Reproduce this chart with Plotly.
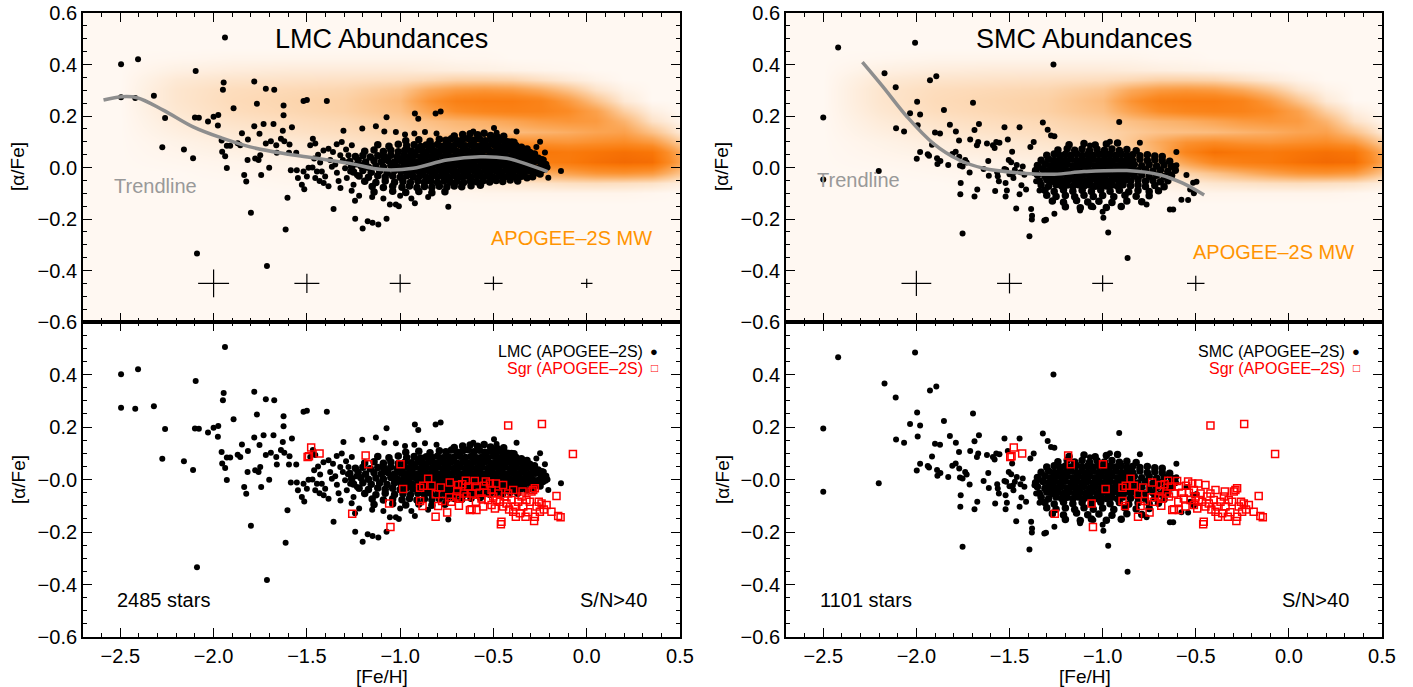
import plotly.graph_objects as go

FONT = "Liberation Sans"
CREAM = "#fff8f2"

# ---------------- LMC stars: ([Fe/H], [alpha/Fe]) ----------------
lmc_outer = [
    (-2.496, 0.401), (-2.496, 0.273), (-2.405, 0.420), (-2.420, 0.270), (-2.320, 0.279),
    (-2.260, 0.192), (-2.275, 0.079), (-2.159, 0.070), (-2.110, 0.036), (-2.096, 0.375),
    (-2.100, 0.194), (-2.079, 0.193), (-2.089, -0.334), (-2.030, 0.179), (-2.000, 0.197),
    (-1.975, 0.204), (-1.977, 0.163), (-1.939, 0.505), (-1.946, 0.330), (-1.950, 0.302),
    (-1.957, 0.105), (-1.954, 0.061), (-1.938, 0.044), (-1.929, 0.084), (-1.911, 0.084),
    (-1.929, -0.002), (-1.893, 0.230), (-1.871, 0.094), (-1.857, 0.086), (-1.848, 0.133),
    (-1.836, -0.029), (-1.825, -0.054), (-1.818, 0.029), (-1.816, 0.109), (-1.800, -0.176),
    (-1.782, 0.334), (-1.782, 0.160), (-1.768, 0.248), (-1.777, 0.035), (-1.759, 0.029),
    (-1.754, 0.131), (-1.750, 0.048), (-1.745, -0.029), (-1.732, 0.169), (-1.720, 0.306),
    (-1.720, 0.093), (-1.714, -0.383), (-1.702, -0.001), (-1.693, 0.102), (-1.679, 0.169),
    (-1.675, 0.302), (-1.664, 0.086), (-1.661, 0.057), (-1.639, 0.112), (-1.629, 0.143),
    (-1.625, 0.203), (-1.625, 0.241), (-1.621, 0.102), (-1.614, -0.241), (-1.604, -0.117),
    (-1.596, 0.057), (-1.593, 0.089), (-1.586, -0.011), (-1.580, 0.156), (-1.557, 0.057),
    (-1.554, -0.011), (-1.548, -0.041), (-1.527, -0.067), (-1.518, 0.258), (-1.500, 0.262),
    (-1.518, -0.016), (-1.514, -0.084), (-1.500, -0.035), (-1.491, -0.001), (-1.482, 0.086),
    (-1.468, 0.112), (-1.461, 0.035), (-1.455, 0.093), (-1.446, -0.016), (-1.455, -0.041),
    (-1.432, -0.052), (-1.429, 0.019), (-1.420, -0.016), (-1.411, 0.066), (-1.402, -0.035),
    (-1.393, 0.258), (-1.384, -0.073), (-1.384, 0.073), (-1.375, 0.029), (-1.366, 0.003),
    (-1.357, -0.161), (-1.348, 0.012), (-1.339, -0.020), (-1.330, -0.052), (-1.321, 0.048),
    (-1.313, 0.099), (-1.307, 0.029), (-1.304, 0.143), (-1.295, -0.003), (-1.286, -0.041),
    (-1.277, 0.048), (-1.268, -0.016), (-1.259, 0.086), (-1.250, -0.067), (-1.241, -0.199),
    (-1.236, 0.012), (-1.232, -0.029), (-1.470, 0.000), (-1.440, 0.050), (-1.410, -0.060),
    (-1.360, 0.060), (-1.340, 0.090), (-1.320, -0.080), (-1.290, 0.070), (-1.280, 0.020),
    (-1.203, 0.151), (-1.130, 0.160), (-1.073, 0.195), (-0.921, 0.210), (-0.903, 0.189),
    (-0.810, 0.210), (-0.783, 0.217), (-1.085, 0.140), (-1.023, 0.138), (-0.974, 0.128),
    (-0.924, 0.132), (-0.867, 0.138), (-0.805, 0.132), (-0.608, 0.140), (-0.497, 0.153),
    (-0.483, 0.135), (-0.376, 0.140), (-0.403, 0.102), (-0.224, 0.058), (-0.138, -0.014),
    (-0.206, -0.040), (-1.201, -0.237), (-1.174, -0.209), (-1.148, -0.215), (-1.117, -0.221),
    (-1.073, -0.199), (-1.055, -0.144), (-1.023, -0.144), (-1.007, -0.150), (-0.921, -0.139),
    (-0.742, -0.152), (-1.242, -0.129), (-1.260, -0.090), (-1.220, -0.110), (-1.150, -0.115),
    (-1.090, -0.120), (-1.000, -0.110), (-0.940, -0.120), (-0.850, -0.115), (-0.270, 0.080),
    (-0.250, 0.100), (-0.230, 0.030), (-0.210, 0.000), (-0.220, -0.005),
]

lmc_core = [
    (-0.710, 0.122), (-0.665, 0.128), (-0.625, 0.131), (-0.585, 0.127), (-0.550, 0.133),
    (-0.515, 0.124), (-0.480, 0.118), (-0.445, 0.121),
    (-0.970, 0.104), (-0.900, 0.108), (-0.840, 0.102), (-0.790, 0.110), (-0.755, 0.106),
    (-0.725, 0.112), (-0.695, 0.104), (-0.665, 0.109), (-0.635, 0.113), (-0.605, 0.106),
    (-0.575, 0.111), (-0.545, 0.104), (-0.515, 0.109), (-0.485, 0.103), (-0.455, 0.107),
    (-0.425, 0.100), (-0.390, 0.098),
    (-1.120, 0.088), (-1.060, 0.083), (-1.010, 0.090), (-0.965, 0.084), (-0.925, 0.088),
    (-0.890, 0.082), (-0.860, 0.087), (-0.830, 0.084), (-0.800, 0.089), (-0.770, 0.083),
    (-0.740, 0.087), (-0.710, 0.085), (-0.680, 0.089), (-0.650, 0.084), (-0.620, 0.088),
    (-0.590, 0.083), (-0.560, 0.087), (-0.530, 0.084), (-0.500, 0.089), (-0.470, 0.083),
    (-0.440, 0.086), (-0.410, 0.082), (-0.380, 0.085), (-0.350, 0.079), (-0.320, 0.072),
    (-1.190, 0.063), (-1.140, 0.068), (-1.090, 0.062), (-1.050, 0.067), (-1.010, 0.061),
    (-0.975, 0.066), (-0.940, 0.064), (-0.905, 0.068), (-0.875, 0.062), (-0.845, 0.067),
    (-0.815, 0.063), (-0.785, 0.066), (-0.755, 0.064), (-0.725, 0.068), (-0.695, 0.062),
    (-0.665, 0.066), (-0.635, 0.063), (-0.605, 0.067), (-0.575, 0.064), (-0.545, 0.068),
    (-0.515, 0.062), (-0.485, 0.066), (-0.455, 0.063), (-0.425, 0.067), (-0.395, 0.062),
    (-0.365, 0.066), (-0.335, 0.061), (-0.305, 0.058), (-0.280, 0.052),
    (-1.240, 0.043), (-1.200, 0.047), (-1.160, 0.041), (-1.120, 0.046), (-1.085, 0.043),
    (-1.050, 0.048), (-1.015, 0.042), (-0.980, 0.046), (-0.950, 0.044), (-0.920, 0.048),
    (-0.890, 0.042), (-0.860, 0.046), (-0.830, 0.043), (-0.800, 0.047), (-0.770, 0.042),
    (-0.740, 0.046), (-0.710, 0.043), (-0.680, 0.047), (-0.650, 0.042), (-0.620, 0.046),
    (-0.590, 0.043), (-0.560, 0.047), (-0.530, 0.042), (-0.500, 0.046), (-0.470, 0.043),
    (-0.440, 0.047), (-0.410, 0.042), (-0.380, 0.046), (-0.350, 0.043), (-0.320, 0.045),
    (-0.290, 0.040), (-0.260, 0.036), (-0.240, 0.030),
    (-1.270, 0.023), (-1.225, 0.028), (-1.185, 0.021), (-1.140, 0.026), (-1.100, 0.022),
    (-1.065, 0.027), (-1.030, 0.021), (-0.995, 0.025), (-0.965, 0.022), (-0.935, 0.027),
    (-0.905, 0.021), (-0.875, 0.026), (-0.845, 0.022), (-0.815, 0.027), (-0.785, 0.021),
    (-0.755, 0.025), (-0.725, 0.022), (-0.695, 0.027), (-0.665, 0.021), (-0.635, 0.026),
    (-0.605, 0.022), (-0.575, 0.027), (-0.545, 0.021), (-0.515, 0.025), (-0.485, 0.022),
    (-0.455, 0.027), (-0.425, 0.021), (-0.395, 0.026), (-0.365, 0.022), (-0.335, 0.027),
    (-0.305, 0.021), (-0.275, 0.024), (-0.245, 0.018), (-0.220, 0.012),
    (-1.260, 0.003), (-1.210, 0.007), (-1.170, 0.001), (-1.130, 0.006), (-1.090, 0.002),
    (-1.050, 0.008), (-1.015, 0.002), (-0.980, 0.006), (-0.950, 0.004), (-0.920, 0.008),
    (-0.890, 0.002), (-0.860, 0.006), (-0.830, 0.003), (-0.800, 0.007), (-0.770, 0.002),
    (-0.740, 0.006), (-0.710, 0.003), (-0.680, 0.007), (-0.650, 0.002), (-0.620, 0.006),
    (-0.590, 0.003), (-0.560, 0.007), (-0.530, 0.002), (-0.500, 0.006), (-0.470, 0.003),
    (-0.440, 0.007), (-0.410, 0.002), (-0.380, 0.006), (-0.350, 0.003), (-0.320, 0.005),
    (-0.290, 0.000), (-0.260, -0.004), (-0.235, -0.008),
    (-1.250, -0.017), (-1.200, -0.012), (-1.155, -0.018), (-1.110, -0.013), (-1.070, -0.019),
    (-1.030, -0.012), (-0.995, -0.016), (-0.965, -0.013), (-0.935, -0.018), (-0.905, -0.012),
    (-0.875, -0.016), (-0.845, -0.013), (-0.815, -0.018), (-0.785, -0.012), (-0.755, -0.016),
    (-0.725, -0.013), (-0.695, -0.018), (-0.665, -0.012), (-0.635, -0.016), (-0.605, -0.013),
    (-0.575, -0.018), (-0.545, -0.012), (-0.515, -0.016), (-0.485, -0.013), (-0.455, -0.018),
    (-0.425, -0.012), (-0.395, -0.016), (-0.365, -0.013), (-0.335, -0.018), (-0.305, -0.014),
    (-0.275, -0.020), (-0.250, -0.025),
    (-1.220, -0.033), (-1.170, -0.038), (-1.120, -0.032), (-1.080, -0.037), (-1.040, -0.033),
    (-1.000, -0.038), (-0.965, -0.032), (-0.930, -0.036), (-0.895, -0.033), (-0.860, -0.038),
    (-0.830, -0.032), (-0.800, -0.036), (-0.770, -0.033), (-0.740, -0.038), (-0.710, -0.032),
    (-0.680, -0.036), (-0.650, -0.033), (-0.620, -0.038), (-0.590, -0.032), (-0.560, -0.036),
    (-0.530, -0.033), (-0.500, -0.038), (-0.470, -0.032), (-0.440, -0.036), (-0.410, -0.033),
    (-0.380, -0.037), (-0.350, -0.034), (-0.320, -0.040), (-0.290, -0.036),
    (-1.190, -0.053), (-1.130, -0.058), (-1.080, -0.052), (-1.030, -0.057), (-0.985, -0.054),
    (-0.945, -0.058), (-0.905, -0.052), (-0.870, -0.057), (-0.835, -0.053), (-0.800, -0.058),
    (-0.765, -0.052), (-0.730, -0.056), (-0.695, -0.053), (-0.660, -0.058), (-0.625, -0.052),
    (-0.590, -0.055), (-0.555, -0.051), (-0.520, -0.056), (-0.485, -0.050), (-0.450, -0.054),
    (-0.410, -0.049), (-0.370, -0.052),
    (-1.150, -0.074), (-1.090, -0.078), (-1.040, -0.073), (-0.990, -0.077), (-0.950, -0.072),
    (-0.910, -0.078), (-0.870, -0.074), (-0.830, -0.077), (-0.790, -0.073), (-0.750, -0.076),
    (-0.710, -0.072), (-0.670, -0.075), (-0.620, -0.071), (-0.570, -0.069),
    (-1.140, -0.095), (-1.040, -0.092), (-0.970, -0.097), (-0.900, -0.093), (-0.830, -0.098),
    (-0.760, -0.094),
]

# ---------------- SMC stars ----------------
smc_outer = [
    (-2.500, 0.194), (-2.500, -0.047), (-2.420, 0.466), (-2.202, -0.014), (-2.171, 0.366),
    (-2.111, 0.312), (-2.109, 0.152), (-2.066, 0.140), (-2.034, 0.211), (-2.007, 0.484),
    (-1.996, 0.255), (-1.993, 0.164), (-1.998, 0.034), (-1.980, 0.206), (-1.980, 0.060),
    (-1.939, 0.051), (-1.932, 0.046), (-1.927, 0.339), (-1.916, 0.088), (-1.900, 0.136),
    (-1.893, 0.354), (-1.889, 0.036), (-1.887, 0.014), (-1.873, 0.132), (-1.871, 0.025),
    (-1.852, 0.223), (-1.829, 0.010), (-1.820, 0.166), (-1.807, 0.052), (-1.789, 0.061),
    (-1.788, 0.140), (-1.771, 0.105), (-1.770, 0.042), (-1.766, 0.008), (-1.762, -0.060),
    (-1.764, -0.104), (-1.752, 0.004), (-1.752, -0.256), (-1.738, 0.029), (-1.730, 0.019),
    (-1.714, -0.019), (-1.711, 0.109), (-1.696, 0.251), (-1.688, 0.146), (-1.688, -0.113),
    (-1.675, 0.086), (-1.673, -0.085), (-1.664, 0.169), (-1.668, 0.099), (-1.639, -0.006),
    (-1.621, 0.093), (-1.614, 0.025), (-1.611, -0.032), (-1.589, 0.086), (-1.580, 0.076),
    (-1.577, -0.091), (-1.571, 0.099), (-1.566, -0.018), (-1.563, -0.034), (-1.557, -0.053),
    (-1.554, 0.096), (-1.527, 0.156), (-1.527, -0.006), (-1.521, -0.060), (-1.521, -0.113),
    (-1.518, -0.009), (-1.514, -0.089), (-1.509, 0.109), (-1.504, 0.029), (-1.500, -0.026),
    (-1.491, 0.020), (-1.486, 0.061), (-1.482, -0.023), (-1.479, -0.041), (-1.471, -0.009),
    (-1.464, -0.159), (-1.461, 0.010), (-1.446, 0.156), (-1.446, -0.104), (-1.441, -0.018),
    (-1.436, -0.069), (-1.429, 0.004), (-1.420, -0.028), (-1.411, -0.085), (-1.393, -0.267),
    (-1.388, 0.080), (-1.384, -0.161), (-1.379, -0.187), (-1.380, -0.202), (-1.370, 0.099),
    (-1.366, -0.022), (-1.357, -0.053), (-1.348, 0.010), (-1.339, -0.089), (-1.330, -0.003),
    (-1.321, 0.175), (-1.313, -0.206), (-1.304, -0.203), (-1.295, 0.147), (-1.286, -0.034),
    (-1.277, 0.124), (-1.264, 0.400), (-1.259, 0.121), (-1.268, -0.130), (-1.259, -0.180),
    (-0.911, 0.177), (-0.970, -0.252), (-0.866, -0.351), (-0.604, 0.060), (-0.604, 0.009),
    (-0.639, -0.163), (-0.621, -0.163), (-1.121, -0.167), (-1.050, -0.154), (-0.996, -0.195),
    (-1.000, -0.172), (-0.764, -0.144), (-0.577, -0.125), (-0.800, 0.096), (-0.961, 0.100),
    (-1.068, 0.085), (-0.514, -0.059), (-0.496, -0.055), (-0.550, -0.029), (-0.541, -0.126),
    (-0.530, -0.085), (-0.510, -0.100),
]

smc_core = [
    (-1.180, 0.088), (-1.100, 0.093), (-1.040, 0.087), (-0.980, 0.091), (-0.920, 0.095),
    (-1.240, 0.068), (-1.190, 0.073), (-1.150, 0.067), (-1.110, 0.072), (-1.070, 0.066),
    (-1.030, 0.071), (-0.990, 0.067), (-0.950, 0.072), (-0.910, 0.066), (-0.870, 0.070),
    (-0.820, 0.065),
    (-1.300, 0.048), (-1.260, 0.052), (-1.230, 0.047), (-1.200, 0.051), (-1.170, 0.048),
    (-1.140, 0.053), (-1.110, 0.047), (-1.080, 0.051), (-1.050, 0.048), (-1.020, 0.052),
    (-0.990, 0.047), (-0.960, 0.051), (-0.930, 0.048), (-0.900, 0.052), (-0.870, 0.047),
    (-0.840, 0.050), (-0.800, 0.046), (-0.760, 0.050), (-0.720, 0.045), (-0.680, 0.043),
    (-1.330, 0.028), (-1.290, 0.032), (-1.260, 0.027), (-1.230, 0.031), (-1.200, 0.028),
    (-1.170, 0.033), (-1.140, 0.027), (-1.110, 0.031), (-1.080, 0.028), (-1.050, 0.032),
    (-1.020, 0.027), (-0.990, 0.031), (-0.960, 0.028), (-0.930, 0.032), (-0.900, 0.027),
    (-0.870, 0.031), (-0.840, 0.028), (-0.800, 0.032), (-0.760, 0.027), (-0.720, 0.030),
    (-0.680, 0.026), (-0.640, 0.024),
    (-1.350, 0.008), (-1.310, 0.012), (-1.280, 0.007), (-1.250, 0.011), (-1.220, 0.008),
    (-1.190, 0.013), (-1.160, 0.007), (-1.130, 0.011), (-1.100, 0.008), (-1.070, 0.012),
    (-1.040, 0.007), (-1.010, 0.011), (-0.980, 0.008), (-0.950, 0.012), (-0.920, 0.007),
    (-0.890, 0.011), (-0.860, 0.008), (-0.830, 0.012), (-0.790, 0.007), (-0.750, 0.011),
    (-0.710, 0.006), (-0.670, 0.010), (-0.630, 0.005),
    (-1.360, -0.012), (-1.320, -0.008), (-1.290, -0.013), (-1.260, -0.009), (-1.230, -0.012),
    (-1.200, -0.007), (-1.170, -0.013), (-1.140, -0.009), (-1.110, -0.012), (-1.080, -0.008),
    (-1.050, -0.013), (-1.020, -0.009), (-0.990, -0.012), (-0.960, -0.008), (-0.930, -0.013),
    (-0.900, -0.009), (-0.870, -0.012), (-0.840, -0.008), (-0.810, -0.013), (-0.770, -0.009),
    (-0.730, -0.014), (-0.690, -0.010), (-0.650, -0.015), (-0.610, -0.011),
    (-1.350, -0.028), (-1.310, -0.033), (-1.280, -0.029), (-1.250, -0.032), (-1.220, -0.027),
    (-1.190, -0.033), (-1.160, -0.029), (-1.130, -0.032), (-1.100, -0.027), (-1.070, -0.033),
    (-1.040, -0.029), (-1.010, -0.032), (-0.980, -0.027), (-0.950, -0.033), (-0.920, -0.029),
    (-0.890, -0.032), (-0.860, -0.027), (-0.830, -0.033), (-0.790, -0.029), (-0.750, -0.034),
    (-0.710, -0.030), (-0.670, -0.035), (-0.630, -0.031),
    (-1.340, -0.052), (-1.300, -0.048), (-1.270, -0.053), (-1.240, -0.049), (-1.210, -0.052),
    (-1.180, -0.047), (-1.150, -0.053), (-1.120, -0.049), (-1.090, -0.052), (-1.060, -0.047),
    (-1.030, -0.053), (-1.000, -0.049), (-0.970, -0.052), (-0.940, -0.047), (-0.910, -0.053),
    (-0.880, -0.049), (-0.850, -0.052), (-0.810, -0.048), (-0.770, -0.053), (-0.730, -0.050),
    (-0.690, -0.055), (-0.650, -0.051),
    (-1.330, -0.068), (-1.290, -0.073), (-1.250, -0.067), (-1.220, -0.072), (-1.190, -0.068),
    (-1.160, -0.073), (-1.130, -0.067), (-1.100, -0.072), (-1.070, -0.068), (-1.040, -0.073),
    (-1.010, -0.067), (-0.980, -0.072), (-0.950, -0.068), (-0.920, -0.073), (-0.890, -0.067),
    (-0.850, -0.071), (-0.810, -0.068), (-0.770, -0.074), (-0.720, -0.070), (-0.670, -0.075),
    (-1.310, -0.088), (-1.260, -0.093), (-1.210, -0.087), (-1.160, -0.092), (-1.110, -0.088),
    (-1.060, -0.093), (-1.010, -0.087), (-0.960, -0.092), (-0.910, -0.088), (-0.860, -0.094),
    (-0.810, -0.089), (-0.750, -0.093), (-0.700, -0.090),
    (-1.300, -0.108), (-1.250, -0.113), (-1.200, -0.109), (-1.150, -0.114), (-1.100, -0.108),
    (-1.050, -0.113), (-1.000, -0.109), (-0.940, -0.114), (-0.880, -0.108), (-0.820, -0.112),
    (-0.750, -0.110),
    (-1.270, -0.130), (-1.210, -0.135), (-1.140, -0.128), (-1.080, -0.134), (-1.020, -0.131),
    (-0.950, -0.136), (-0.870, -0.130), (-0.790, -0.133),
    (-1.200, -0.152), (-1.120, -0.156), (-1.060, -0.150), (-0.980, -0.155), (-0.900, -0.151),
]

# ---------------- Sgr stars (red open squares) ----------------
sgr_stars = [
    (-0.421, 0.206), (-0.240, 0.211), (-0.074, 0.097), (-1.185, 0.091), (-1.171, 0.058),
    (-0.998, 0.058), (-0.984, -0.036), (-1.059, -0.091), (-1.052, -0.181), (-1.257, -0.130),
    (-0.850, 0.003), (-0.832, -0.024), (-0.893, -0.031), (-0.876, -0.024), (-0.893, -0.082),
    (-0.880, -0.101), (-0.782, -0.030), (-0.809, -0.056), (-0.796, -0.101), (-0.810, -0.142),
    (-0.734, -0.011), (-0.775, -0.082), (-0.748, -0.126), (-0.737, -0.068), (-0.725, -0.085),
    (-0.689, -0.021), (-0.694, -0.044), (-0.685, -0.100), (-0.667, -0.018), (-0.659, -0.053),
    (-0.644, -0.065), (-0.635, -0.027), (-0.626, -0.116), (-0.617, -0.113), (-0.600, -0.006),
    (-0.594, -0.085), (-0.591, -0.116), (-0.591, -0.027), (-0.573, -0.050), (-0.564, -0.072),
    (-0.551, -0.024), (-0.541, -0.008), (-0.537, -0.050), (-0.528, -0.078), (-0.519, -0.015),
    (-0.510, -0.040), (-0.501, -0.065), (-0.492, -0.110), (-0.487, -0.015), (-0.474, -0.053),
    (-0.465, -0.085), (-0.457, -0.161), (-0.460, -0.170), (-0.448, -0.021), (-0.439, -0.065),
    (-0.430, -0.091), (-0.421, -0.053), (-0.416, -0.114), (-0.403, -0.078), (-0.394, -0.040),
    (-0.385, -0.103), (-0.380, -0.142), (-0.367, -0.085), (-0.349, -0.065), (-0.344, -0.046),
    (-0.340, -0.103), (-0.328, -0.142), (-0.314, -0.125), (-0.305, -0.085), (-0.296, -0.046),
    (-0.287, -0.040), (-0.278, -0.033), (-0.282, -0.158), (-0.278, -0.142), (-0.269, -0.103),
    (-0.257, -0.085), (-0.251, -0.123), (-0.242, -0.091), (-0.230, -0.114), (-0.215, -0.097),
    (-0.189, -0.123), (-0.162, -0.063), (-0.153, -0.139), (-0.140, -0.144), (-0.648, -0.005),
    (-0.680, -0.072), (-0.698, -0.065), (-0.617, -0.053), (-0.483, -0.078), (-0.510, -0.097),
    (-0.394, -0.123), (-0.358, -0.129), (-0.323, -0.078), (-0.448, -0.103), (-0.555, -0.103),
    (-1.477, 0.122), (-1.432, 0.099), (-1.496, 0.086), (-1.489, 0.089),
]

# ---------------- trendlines ----------------
lmc_trend_feh = [-2.59, -2.49, -2.41, -2.27, -2.11, -1.95, -1.81, -1.63, -1.45, -1.27,
                 -1.10, -0.93, -0.75, -0.57, -0.43, -0.31, -0.21]
lmc_trend_alpha = [0.262, 0.275, 0.271, 0.223, 0.158, 0.113, 0.081, 0.055, 0.036, 0.016,
                   -0.008, -0.003, 0.029, 0.042, 0.036, 0.010, -0.016]
smc_trend_feh = [-2.29, -2.18, -2.05, -1.91, -1.77, -1.64, -1.46, -1.26, -1.10, -0.87,
                 -0.69, -0.57, -0.455]
smc_trend_alpha = [0.409, 0.314, 0.197, 0.094, 0.029, -0.003, -0.020, -0.026, -0.016,
                   -0.012, -0.029, -0.061, -0.107]

# ---------------- typical error bars ----------------
err_alpha_level = -0.45
lmc_err_feh = [-2.0, -1.5, -1.0, -0.5, 0.0]
lmc_err_dfeh = [0.083, 0.067, 0.056, 0.049, 0.031]
lmc_err_dalpha = [0.054, 0.037, 0.035, 0.027, 0.018]
smc_err_feh = [-2.0, -1.5, -1.0, -0.5]
smc_err_dfeh = [0.080, 0.067, 0.056, 0.047]
smc_err_dalpha = [0.049, 0.039, 0.032, 0.030]

# ---------------- APOGEE-2S MW density (background) ----------------
mw_feh = [-2.7, -2.5, -2.2, -1.9, -1.6, -1.3, -1.0, -0.85, -0.7, -0.55, -0.4, -0.25, -0.1,
          0.05, 0.2, 0.35, 0.5]
mw_alpha = [-0.14, -0.10, -0.06, -0.02, 0.02, 0.06, 0.10, 0.14, 0.18, 0.22, 0.26, 0.30,
            0.34, 0.38, 0.42, 0.46]
mw_density = [
    [0, 0, 0, 0, 0, 0, 0, 0, 0, 0, 0, 0, 0, 0, 0, 0, 0],
    [0, 0, 0, 0, 0, 0, .01, .01, .01, .02, .02, .02, .02, .02, .02, .01, 0],
    [0, 0, 0, 0, .01, .01, .02, .03, .05, .07, .10, .12, .14, .15, .14, .12, .06],
    [0, 0, 0, .01, .02, .03, .05, .08, .12, .20, .30, .40, .50, .58, .60, .55, .30],
    [0, 0, .01, .02, .03, .05, .08, .15, .28, .50, .70, .78, .82, .90, .95, .92, .50],
    [0, 0, .02, .04, .06, .08, .12, .24, .42, .72, .90, .85, .82, .86, .90, .85, .45],
    [0, 0, .03, .06, .08, .11, .16, .28, .45, .60, .65, .60, .58, .62, .65, .55, .25],
    [0, 0, .05, .09, .12, .15, .20, .25, .30, .32, .34, .38, .42, .48, .50, .30, .08],
    [0, 0, .07, .12, .15, .18, .25, .32, .38, .42, .48, .55, .58, .55, .38, .12, .02],
    [0, 0, .09, .15, .18, .22, .32, .50, .65, .72, .75, .74, .66, .50, .22, .05, 0],
    [0, 0, .10, .16, .19, .22, .35, .60, .76, .80, .80, .74, .55, .30, .08, 0, 0],
    [0, 0, .10, .15, .17, .19, .28, .45, .55, .58, .55, .45, .30, .12, .03, 0, 0],
    [0, 0, .08, .11, .12, .13, .15, .18, .22, .22, .20, .14, .08, .03, 0, 0, 0],
    [0, 0, .04, .06, .07, .07, .07, .06, .05, .04, .03, .02, .01, 0, 0, 0, 0],
    [0, 0, .01, .02, .02, .02, .02, .02, .01, .01, 0, 0, 0, 0, 0, 0, 0],
    [0, 0, 0, 0, 0, 0, 0, 0, 0, 0, 0, 0, 0, 0, 0, 0, 0],
]
mw_colors = [
    [0.0, CREAM], [0.1, "#fde6cf"], [0.25, "#fccb9a"], [0.45, "#fba95a"],
    [0.65, "#fb8c26"], [0.85, "#f97708"], [1.0, "#f06400"],
]


def unzip(points):
    return [p[0] for p in points], [p[1] for p in points]


lmc_out_feh, lmc_out_alpha = unzip(lmc_outer)
lmc_core_feh, lmc_core_alpha = unzip(lmc_core)
smc_out_feh, smc_out_alpha = unzip(smc_outer)
smc_core_feh, smc_core_alpha = unzip(smc_core)
sgr_feh, sgr_alpha = unzip(sgr_stars)

fig = go.Figure()


def add_stars(xa, ya, out_x, out_y, core_x, core_y):
    fig.add_trace(go.Scatter(
        x=core_x, y=core_y, mode="markers", xaxis=xa, yaxis=ya,
        marker=dict(size=7.5, color="black", line=dict(width=0)), showlegend=False,
    ))
    fig.add_trace(go.Scatter(
        x=out_x, y=out_y, mode="markers", xaxis=xa, yaxis=ya,
        marker=dict(size=6, color="black", line=dict(width=0)), showlegend=False,
    ))


def add_top_panel(xa, ya, stars, trend_x, trend_y, ex, edx, edy):
    fig.add_trace(go.Heatmap(
        x=mw_feh, y=mw_alpha, z=mw_density, colorscale=mw_colors, zmin=0, zmax=1,
        zsmooth="best", showscale=False, hoverinfo="skip", xaxis=xa, yaxis=ya,
    ))
    add_stars(xa, ya, *stars)
    fig.add_trace(go.Scatter(
        x=trend_x, y=trend_y, mode="lines", xaxis=xa, yaxis=ya,
        line=dict(color="#8e8e8e", width=3.5, shape="spline"), showlegend=False,
    ))
    fig.add_trace(go.Scatter(
        x=ex, y=[err_alpha_level] * len(ex), mode="markers", xaxis=xa, yaxis=ya,
        marker=dict(size=1, color="black"), showlegend=False,
        error_x=dict(type="data", array=edx, color="black", thickness=1.2, width=0),
        error_y=dict(type="data", array=edy, color="black", thickness=1.2, width=0),
    ))


def add_bottom_panel(xa, ya, stars):
    add_stars(xa, ya, *stars)
    fig.add_trace(go.Scatter(
        x=sgr_feh, y=sgr_alpha, mode="markers", xaxis=xa, yaxis=ya,
        marker=dict(size=7, symbol="square-open", color="#ff0000", line=dict(width=1.5)),
        showlegend=False,
    ))


lmc_stars = (lmc_out_feh, lmc_out_alpha, lmc_core_feh, lmc_core_alpha)
smc_stars = (smc_out_feh, smc_out_alpha, smc_core_feh, smc_core_alpha)

add_top_panel("x", "y", lmc_stars, lmc_trend_feh, lmc_trend_alpha,
              lmc_err_feh, lmc_err_dfeh, lmc_err_dalpha)
add_top_panel("x2", "y2", smc_stars, smc_trend_feh, smc_trend_alpha,
              smc_err_feh, smc_err_dfeh, smc_err_dalpha)
add_bottom_panel("x3", "y3", lmc_stars)
add_bottom_panel("x4", "y4", smc_stars)

# axes
x_ticks = [-2.5, -2.0, -1.5, -1.0, -0.5, 0.0, 0.5]
x_labels = ["\u22122.5", "\u22122.0", "\u22121.5", "\u22121.0", "\u22120.5", "0.0", "0.5"]
y_ticks = [-0.6, -0.4, -0.2, 0.0, 0.2, 0.4, 0.6]
y_labels_top = ["\u22120.6", "\u22120.4", "\u22120.2", "0.0", "0.2", "0.4", "0.6"]
y_labels_bottom = ["\u22120.6", "\u22120.4", "\u22120.2", "\u22120.0", "0.2", "0.4", ""]


def ax(**kw):
    d = dict(showline=True, linecolor="black", linewidth=1.8, mirror="allticks",
             ticks="inside", ticklen=9, tickwidth=1.3, tickcolor="black",
             showgrid=False, zeroline=False, fixedrange=True, automargin=False,
             tickfont=dict(family=FONT, size=20, color="black"))
    d.update(kw)
    return d


xminor = dict(tickmode="linear", tick0=0, dtick=0.1, ticks="inside", ticklen=4.5,
              tickwidth=1.1, tickcolor="black")
yminor = dict(tickmode="linear", tick0=0, dtick=0.05, ticks="inside", ticklen=4.5,
              tickwidth=1.1, tickcolor="black")

left_dom = [83 / 1413, 680 / 1413]
right_dom = [786 / 1413, 1382 / 1413]
top_dom = [1 - 322 / 687, 1 - 13 / 687]
bot_dom = [1 - 637 / 687, 1 - 322 / 687]

for i, (xd, yd, ylab, showx) in enumerate([
    (left_dom, top_dom, y_labels_top, False),
    (right_dom, top_dom, y_labels_top, False),
    (left_dom, bot_dom, y_labels_bottom, True),
    (right_dom, bot_dom, y_labels_bottom, True),
], start=1):
    sfx = "" if i == 1 else str(i)
    fig.update_layout(**{
        "xaxis" + sfx: ax(domain=xd, anchor="y" + sfx, range=[-2.7, 0.5],
                          tickmode="array", tickvals=x_ticks, ticktext=x_labels,
                          showticklabels=showx, minor=xminor),
        "yaxis" + sfx: ax(domain=yd, anchor="x" + sfx, range=[-0.6, 0.6],
                          tickmode="array", tickvals=y_ticks, ticktext=ylab,
                          minor=yminor),
    })

shapes = [
    dict(type="rect", xref=xr + " domain", yref=yr + " domain", x0=0, x1=1, y0=0, y1=1,
         fillcolor=CREAM, line=dict(width=0), layer="below")
    for xr, yr in [("x", "y"), ("x2", "y2")]
]


def note(text, x, y, xref, yref, size, color="black", xanchor="center", angle=0):
    return dict(text=text, x=x, y=y, xref=xref, yref=yref, showarrow=False,
                xanchor=xanchor, yanchor="middle", textangle=angle,
                font=dict(family=FONT, size=size, color=color))


annotations = [
    note("LMC Abundances", -1.10, 0.50, "x", "y", 27),
    note("Trendline", -2.31, -0.072, "x", "y", 20, "#999999"),
    note("APOGEE\u20132S MW", -0.08, -0.274, "x", "y", 20, "#ff9400"),
    note("SMC Abundances", -1.10, 0.50, "x2", "y2", 27),
    note("Trendline", -2.31, -0.049, "x2", "y2", 20, "#999999"),
    note("APOGEE\u20132S MW", -0.08, -0.328, "x2", "y2", 20, "#ff9400"),
    note("2485 stars", -2.53, -0.459, "x3", "y3", 20, xanchor="left"),
    note("S/N>40", 0.335, -0.459, "x3", "y3", 20, xanchor="right"),
    note("LMC (APOGEE\u20132S)", 0.31, 0.486, "x3", "y3", 16, xanchor="right"),
    note("Sgr (APOGEE\u20132S)", 0.31, 0.421, "x3", "y3", 16, "#ff0000", xanchor="right"),
    note("\u25CF", 0.362, 0.489, "x3", "y3", 13),
    note("\u25A1", 0.362, 0.424, "x3", "y3", 12, "#ff0000"),
    note("1101 stars", -2.53, -0.459, "x4", "y4", 20, xanchor="left"),
    note("S/N>40", 0.335, -0.459, "x4", "y4", 20, xanchor="right"),
    note("SMC (APOGEE\u20132S)", 0.31, 0.486, "x4", "y4", 16, xanchor="right"),
    note("Sgr (APOGEE\u20132S)", 0.31, 0.421, "x4", "y4", 16, "#ff0000", xanchor="right"),
    note("\u25CF", 0.362, 0.489, "x4", "y4", 13),
    note("\u25A1", 0.362, 0.424, "x4", "y4", 12, "#ff0000"),
    # axis titles
    note("[\u03b1/Fe]", 18 / 1413, 1 - 167 / 687, "paper", "paper", 19, angle=-90),
    note("[\u03b1/Fe]", 18 / 1413, 1 - 480 / 687, "paper", "paper", 19, angle=-90),
    note("[\u03b1/Fe]", 722 / 1413, 1 - 167 / 687, "paper", "paper", 19, angle=-90),
    note("[\u03b1/Fe]", 722 / 1413, 1 - 480 / 687, "paper", "paper", 19, angle=-90),
    note("[Fe/H]", 382 / 1413, 1 - 676 / 687, "paper", "paper", 19),
    note("[Fe/H]", 1085 / 1413, 1 - 676 / 687, "paper", "paper", 19),
]

fig.update_layout(
    width=1413, height=687,
    margin=dict(l=0, r=0, t=0, b=0, pad=0, autoexpand=False),
    paper_bgcolor="white", plot_bgcolor="white",
    showlegend=False,
    shapes=shapes,
    annotations=annotations,
    font=dict(family=FONT, color="black"),
)

fig.write_html("out.html", config={"displayModeBar": False},
               post_script="document.body.style.margin='0px';")
